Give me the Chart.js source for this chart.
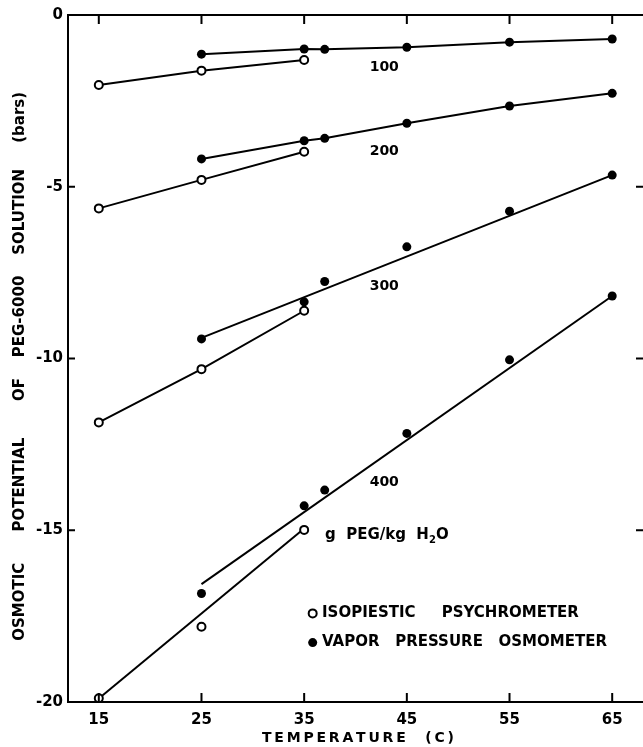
<!DOCTYPE html>
<html>
<head>
<meta charset="utf-8">
<script src="https://cdn.jsdelivr.net/npm/chart.js@4.4.1/dist/chart.umd.min.js"></script>
<style>
  html, body { margin: 0; padding: 0; background: #fff; }
  #chart { display: block; }
</style>
</head>
<body>
<canvas id="chart" width="643" height="747"></canvas>
<script>
'use strict';

// temperatures (C) of each method
let isoTemps = [15, 25, 35];
let vpoTemps = [25, 35, 37, 45, 55, 65];

// isopiestic psychrometer (open circles), bars
let iso100 = [-2.04, -1.62, -1.31];
let iso200 = [-5.63, -4.80, -3.98];
let iso300 = [-11.86, -10.31, -8.61];
let iso400 = [-19.89, -17.81, -14.99];

// vapor pressure osmometer (filled circles), bars
let vpo100 = [-1.14, -0.99, -1.00, -0.94, -0.79, -0.70];
let vpo200 = [-4.19, -3.66, -3.59, -3.15, -2.65, -2.28];
let vpo300 = [-9.43, -8.35, -7.76, -6.75, -5.71, -4.66];
let vpo400 = [-16.84, -14.29, -13.83, -12.18, -10.04, -8.18];

// fitted straight lines (start and end)
let fitIso400 = [[15, -19.90], [35, -14.95]];
let fitVpo300 = [[25, -9.40], [65, -4.66]];
let fitVpo400 = [[25, -16.57], [65, -8.18]];

let xTicks = [15, 25, 35, 45, 55, 65];
let yTicks = [0, -5, -10, -15, -20];

let concLabels = ['100', '200', '300', '400'];

const FONT = 'DejaVu Sans';
const TS = '\u2009';

function pts(xs, ys) {
    return xs.map((x, i) => ({x: x, y: ys[i]}));
}

function isoSet(ys, line) {
    return {
        data: pts(isoTemps, ys),
        showLine: line,
        borderColor: '#000',
        borderWidth: 2,
        pointRadius: 4,
        pointBorderWidth: 2,
        pointBackgroundColor: '#fff',
        pointBorderColor: '#000',
        order: 1
    };
}

function vpoSet(ys, line) {
    return {
        data: pts(vpoTemps, ys),
        showLine: line,
        borderColor: '#000',
        borderWidth: 2,
        pointRadius: 4.5,
        pointBorderWidth: 0,
        pointBackgroundColor: '#000',
        pointBorderColor: '#000',
        order: 1
    };
}

function fitSet(ends) {
    return {
        data: ends.map(e => ({x: e[0], y: e[1]})),
        showLine: true,
        borderColor: '#000',
        borderWidth: 2,
        pointRadius: 0,
        order: 2
    };
}

// frame, inward ticks and the text written on the plot
const decor = {
    id: 'decor',
    afterDraw(chart) {
        let ctx = chart.ctx;
        let a = chart.chartArea;
        let sx = chart.scales.x;
        let sy = chart.scales.y;
        let X = v => sx.getPixelForValue(v);
        let Y = v => sy.getPixelForValue(v);

        ctx.save();
        ctx.strokeStyle = '#000';
        ctx.lineWidth = 2;
        ctx.beginPath();
        ctx.moveTo(a.left - 1, a.top);
        ctx.lineTo(a.right, a.top);
        xTicks.forEach(t => {
            ctx.moveTo(X(t), a.top);
            ctx.lineTo(X(t), a.top + 9);
            ctx.moveTo(X(t), a.bottom);
            ctx.lineTo(X(t), a.bottom - 9);
        });
        yTicks.forEach(t => {
            ctx.moveTo(a.left, Y(t));
            ctx.lineTo(a.left + 7, Y(t));
            ctx.moveTo(a.right, Y(t));
            ctx.lineTo(a.right - 7, Y(t));
        });
        ctx.stroke();

        ctx.fillStyle = '#000';
        ctx.textBaseline = 'middle';

        // concentration labels
        ctx.font = 'bold 14px ' + FONT;
        ctx.textAlign = 'center';
        let labelY = [-1.51, -3.96, -7.89, -13.62];
        concLabels.forEach((s, i) => {
            ctx.fillText(s, X(42.8), Y(labelY[i]));
        });

        // units note
        ctx.textAlign = 'left';
        ctx.font = 'bold 15px ' + FONT;
        let ux = X(37.03);
        let uy = Y(-15.14);
        let head = 'g  PEG/kg  H';
        ctx.fillText(head, ux, uy);
        let w = ctx.measureText(head).width;
        ctx.font = 'bold 10px ' + FONT;
        ctx.fillText('2', ux + w, uy + 5);
        let w2 = ctx.measureText('2').width;
        ctx.font = 'bold 15px ' + FONT;
        ctx.fillText('O', ux + w + w2, uy);

        // key
        let kx = X(35.83);
        let k1 = Y(-17.42);
        let k2 = Y(-18.27);
        ctx.beginPath();
        ctx.arc(kx, k1, 4, 0, Math.PI * 2);
        ctx.fillStyle = '#fff';
        ctx.fill();
        ctx.stroke();
        ctx.beginPath();
        ctx.arc(kx, k2, 4.5, 0, Math.PI * 2);
        ctx.fillStyle = '#000';
        ctx.fill();
        ctx.fillText('ISOPIESTIC     PSYCHROMETER', X(36.74), k1);
        ctx.fillText('VAPOR   PRESSURE   OSMOMETER', X(36.74), k2);
        ctx.restore();
    }
};

let ctx = document.getElementById('chart').getContext('2d');
let chart = new Chart(ctx, {
    type: 'scatter',
    data: {
        datasets: [
            isoSet(iso100, true),
            vpoSet(vpo100, true),
            isoSet(iso200, true),
            vpoSet(vpo200, true),
            isoSet(iso300, true),
            vpoSet(vpo300, false),
            isoSet(iso400, false),
            vpoSet(vpo400, false),
            fitSet(fitVpo300),
            fitSet(fitIso400),
            fitSet(fitVpo400)
        ]
    },
    options: {
        responsive: false,
        animation: false,
        layout: {
            autoPadding: false,
            padding: { top: 15, right: 0, bottom: 0, left: 0 }
        },
        plugins: {
            legend: { display: false },
            tooltip: { enabled: false }
        },
        scales: {
            x: {
                type: 'linear',
                position: 'bottom',
                min: 12,
                max: 68,
                afterBuildTicks: s => { s.ticks = xTicks.map(v => ({value: v})); },
                afterFit: s => {
                    s.height = 45;
                    s.paddingLeft = 0;
                    s.paddingRight = 0;
                },
                grid: { display: false, drawTicks: false },
                border: { display: true, color: '#000', width: 2 },
                ticks: {
                    padding: 9,
                    maxRotation: 0,
                    color: '#000',
                    font: { family: FONT, size: 15, weight: 'bold' }
                },
                title: {
                    display: true,
                    text: ' ' + ['T', 'E', 'M', 'P', 'E', 'R', 'A', 'T', 'U', 'R', 'E'].join(TS) +
                        '    (' + TS + 'C' + TS + ')',
                    color: '#000',
                    padding: { top: 0, bottom: 0 },
                    font: { family: FONT, size: 14, weight: 'bold' }
                }
            },
            y: {
                type: 'linear',
                min: -20,
                max: 0,
                afterBuildTicks: s => { s.ticks = yTicks.map(v => ({value: v})); },
                afterFit: s => { s.width = 68; },
                grid: { display: false, drawTicks: false },
                border: { display: true, color: '#000', width: 2 },
                ticks: {
                    padding: 5,
                    color: '#000',
                    font: { family: FONT, size: 15, weight: 'bold' }
                },
                title: {
                    display: true,
                    text: 'OSMOTIC      POTENTIAL       OF    PEG-6000    SOLUTION     (bars)   ',
                    color: '#000',
                    padding: { top: 11, bottom: 0 },
                    font: { family: FONT, size: 15, weight: 'bold' }
                }
            }
        }
    },
    plugins: [decor]
});
</script>
</body>
</html>
